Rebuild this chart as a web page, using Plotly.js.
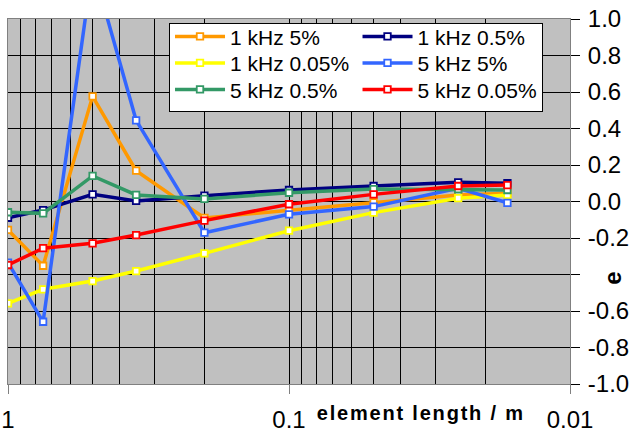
<!DOCTYPE html>
<html>
<head>
<meta charset="utf-8">
<script src="https://cdn.plot.ly/plotly-3.0.1.min.js"></script>
<style>
  html, body { margin: 0; padding: 0; background: #fff; }
  #chart { width: 635px; height: 437px; }
</style>
</head>
<body>
<div id="chart"></div>
<script>
// element length / m
const elementLength = [1, 0.75, 0.5, 0.35, 0.2, 0.1, 0.05, 0.025, 0.0167];

const seriesNames = ['1 kHz 5%', '1 kHz 0.5%', '1 kHz 0.05%', '5 kHz 5%', '5 kHz 0.5%', '5 kHz 0.05%'];

const e_1kHz_5    = [-0.156, -0.352, 0.576, 0.169, -0.090, -0.047, -0.004, 0.036, 0.045];
const e_1kHz_0_5  = [-0.089, -0.047, 0.039, 0.003, 0.032, 0.063, 0.085, 0.105, 0.100];
const e_1kHz_0_05 = [-0.558, -0.481, -0.436, -0.381, -0.284, -0.160, -0.061, 0.018, 0.036];
const e_5kHz_5    = [-0.335, -0.659, 1.290, 0.445, -0.171, -0.070, -0.028, 0.072, -0.007];
const e_5kHz_0_5  = [-0.059, -0.065, 0.140, 0.036, 0.014, 0.048, 0.068, 0.067, 0.063];
const e_5kHz_0_05 = [-0.348, -0.256, -0.229, -0.184, -0.105, -0.015, 0.039, 0.085, 0.090];

const xTickVals = [1, 0.1, 0.01];
const xTickText = ['1', '0.1', '0.01'];
const yTickVals = [-1, -0.8, -0.6, -0.4, -0.2, 0, 0.2, 0.4, 0.6, 0.8, 1];
const yTickText = ['-1.0', '-0.8', '-0.6', '-0.4', '-0.2', '0.0', '0.2', '0.4', '0.6', '0.8', '1.0'];

const seriesValues = [e_1kHz_5, e_1kHz_0_5, e_1kHz_0_05, e_5kHz_5, e_5kHz_0_5, e_5kHz_0_05];
const colors = ['#FF9900', '#000080', '#FFFF00', '#3366FF', '#339966', '#FF0000'];

const FONT = 'Liberation Sans, Arial, sans-serif';

const traces = seriesValues.map((vals, i) => ({
  type: 'scatter',
  mode: 'lines+markers',
  name: seriesNames[i],
  x: elementLength,
  y: vals,
  line: { color: colors[i], width: 3.5 },
  marker: { symbol: 'square', size: 6.5, color: '#FFFFFF', line: { color: colors[i], width: 1.8 } }
}));

const minorGrid = [0.9, 0.8, 0.7, 0.6, 0.5, 0.4, 0.3, 0.2, 0.09, 0.08, 0.07, 0.06, 0.05, 0.04, 0.03, 0.02];

const layout = {
  width: 635,
  height: 437,
  margin: { l: 8, r: 65, t: 19, b: 53 },
  paper_bgcolor: '#FFFFFF',
  plot_bgcolor: '#C0C0C0',
  font: { family: FONT, size: 21, color: '#000' },
  showlegend: true,
  legend: {
    orientation: 'h',
    x: 0.2865, xanchor: 'left',
    y: 0.988, yanchor: 'top',
    bgcolor: '#FFFFFF',
    bordercolor: '#000000',
    borderwidth: 1,
    itemwidth: 50,
    entrywidthmode: 'pixels',
    entrywidth: 125,
    font: { family: FONT, size: 21, color: '#000' },
    traceorder: 'normal'
  },
  xaxis: {
    type: 'log',
    range: [0, -2],
    autorange: false,
    tickmode: 'array',
    tickvals: xTickVals,
    ticktext: xTickText,
    ticks: 'outside',
    ticklen: 9,
    tickcolor: '#808080',
    tickwidth: 1,
    ticklabelstandoff: 5,
    showgrid: true,
    gridcolor: '#000000',
    gridwidth: 1,
    minor: { tickmode: 'array', tickvals: minorGrid, showgrid: true, gridcolor: '#000000', gridwidth: 1, ticks: '' },
    showline: true,
    linecolor: '#808080',
    linewidth: 1,
    mirror: true,
    zeroline: false,
    tickfont: { family: FONT, size: 24, color: '#000' }
  },
  yaxis: {
    side: 'right',
    range: [-1, 1],
    autorange: false,
    tickmode: 'array',
    tickvals: yTickVals,
    ticktext: yTickText,
    ticks: 'outside',
    ticklen: 9,
    tickcolor: '#000000',
    tickwidth: 1,
    ticklabelstandoff: 3,
    showgrid: true,
    gridcolor: '#000000',
    gridwidth: 1,
    showline: true,
    linecolor: '#808080',
    linewidth: 1,
    mirror: true,
    zeroline: false,
    tickfont: { family: FONT, size: 24, color: '#000' }
  },
  annotations: [
    {
      text: '<b>element length / m</b>',
      xref: 'paper', yref: 'paper',
      x: (420.5 - 8) / 562, xanchor: 'center',
      y: (384 - 413) / 365, yanchor: 'middle',
      showarrow: false,
      font: { family: FONT, size: 20, color: '#000' }
    },
    {
      text: '<b>e</b>',
      xref: 'paper', yref: 'paper',
      x: (612 - 8) / 562, xanchor: 'center',
      y: (384 - 278) / 365, yanchor: 'middle',
      textangle: -90,
      width: 28,
      height: 46,
      bgcolor: '#FFFFFF',
      showarrow: false,
      font: { family: FONT, size: 24, color: '#000' }
    }
  ]
};

Plotly.newPlot('chart', traces, layout, { displayModeBar: false, staticPlot: true }).then(() => {
  const t = document.querySelectorAll('.annotation-text');
  if (t.length) t[0].style.letterSpacing = '1.8px';

  // tighten the legend grid to match the reference (2 columns x 3 rows)
  const items = Array.from(document.querySelectorAll('.legend .traces'));
  if (items.length) {
    const parse = el => {
      const m = /translate\(\s*([-\d.]+)[ ,]+([-\d.]+)/.exec(el.getAttribute('transform') || '');
      return m ? [parseFloat(m[1]), parseFloat(m[2])] : [0, 0];
    };
    const [x0] = parse(items[0]);
    const colGap = 187.5, rowGap = 26.5, firstRow = 13;
    items.forEach((el, i) => {
      const col = i % 2, row = Math.floor(i / 2);
      el.setAttribute('transform', `translate(${x0 + col * colGap},${firstRow + row * rowGap})`);
    });
    const bg = document.querySelector('.legend rect.bg');
    if (bg) {
      bg.setAttribute('width', 373);
      bg.setAttribute('height', 88);
    }
  }
});
</script>
</body>
</html>
